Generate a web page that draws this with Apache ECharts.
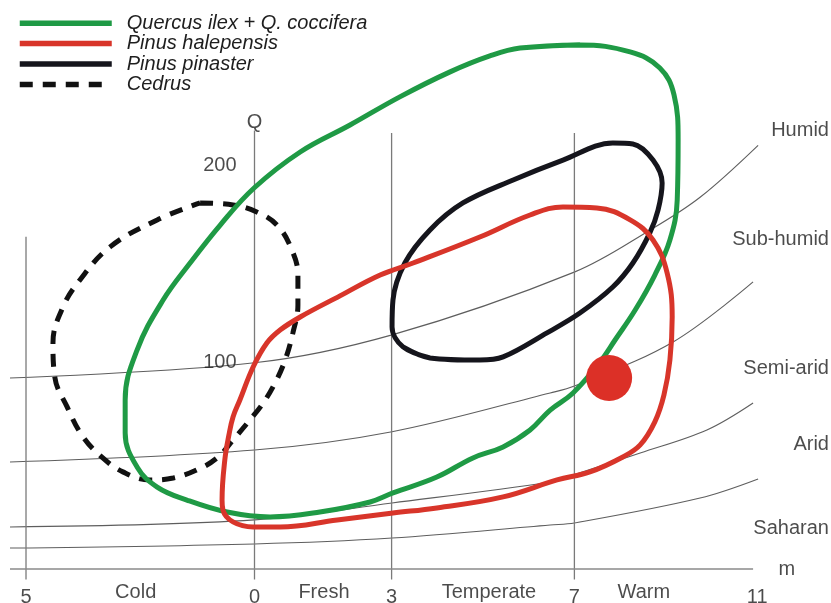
<!DOCTYPE html>
<html><head><meta charset="utf-8">
<script src="https://cdn.jsdelivr.net/npm/echarts@6/dist/echarts.min.js"></script>
<style>html,body{margin:0;padding:0;background:#fff}#c{width:831px;height:603px}</style>
</head><body><div id="c"></div>
<script>
// ---- Data (m = mean min temp of coldest month, Q = Emberger quotient) ----
const quercus = [[5.81,259.9],[7.12,261.5],[8.22,257.9],[8.87,249.8],[9.18,236.1],[9.27,213.2],[9.25,182.7],[9.09,162.4],[8.76,144.6],[8.33,126.8],[7.89,111.6],[7.56,100.4],[6.97,84.7],[6.47,76.0],[6.03,65.9],[5.44,57.3],[4.78,51.7],[3.99,42.0],[3.03,33.9],[2.53,29.3],[1.43,24.2],[0.34,21.7],[-0.60,24.2],[-1.48,30.3],[-2.13,36.9],[-2.57,47.1],[-2.83,64.4],[-2.83,81.1],[-2.57,106.5],[-2.00,131.9],[-1.41,150.7],[-0.75,170.0],[-0.01,188.8],[1.00,207.1],[2.09,220.8],[3.18,235.1],[4.28,247.8],[5.15,255.9],[5.81,259.9],[7.12,261.5]];
const halepensis = [[0.56,116.7],[1.00,123.3],[1.87,134.0],[2.75,144.6],[3.47,150.7],[4.93,163.9],[6.03,175.1],[6.75,179.2],[7.49,178.7],[8.22,172.6],[8.72,162.4],[9.03,145.6],[9.14,123.3],[9.09,101.4],[8.96,83.7],[8.76,70.0],[8.44,58.3],[8.06,52.2],[7.34,44.6],[6.62,40.5],[5.44,31.9],[3.99,26.3],[3.03,23.7],[1.81,20.2],[0.56,16.6],[-0.03,16.6],[-0.47,19.2],[-0.69,25.2],[-0.71,30.3],[-0.65,50.6],[-0.56,63.3],[-0.47,72.5],[-0.32,81.1],[-0.03,97.9],[0.27,110.1],[0.56,116.7],[1.00,123.3]];
const pinaster = [[3.84,102.5],[3.25,108.1],[3.01,118.2],[3.03,131.9],[3.29,150.7],[3.84,167.5],[4.56,181.2],[5.66,192.9],[6.75,203.0],[7.84,211.7],[8.28,211.2],[8.72,203.0],[8.92,191.4],[8.83,177.6],[8.65,166.0],[8.28,150.7],[7.84,138.5],[7.12,125.3],[6.40,115.2],[5.44,103.0],[4.93,101.4],[3.84,102.5],[3.25,108.1]];
const cedrus = [[-1.19,181.2],[-0.47,180.2],[0.05,176.6],[0.49,170.0],[0.80,158.3],[0.95,144.6],[0.95,129.4],[0.84,115.2],[0.67,101.4],[0.45,89.8],[0.19,79.6],[-0.10,71.0],[-0.47,60.8],[-0.82,51.7],[-1.26,45.6],[-1.78,41.5],[-2.29,40.5],[-2.88,44.6],[-3.32,51.7],[-3.75,62.3],[-4.10,77.6],[-4.37,92.8],[-4.41,110.1],[-4.19,128.4],[-3.82,142.1],[-3.16,158.9],[-2.13,172.6],[-1.19,181.2]];
const sitePoint = [[7.76,92.3]];

// Bioclimatic zone limits
const humidLimit    = [[-5.35,92.3],[0,100.0],[3.01,114.2],[7.01,146.2],[8.66,167.5],[9.75,184.1],[11.02,210.5]];
const subhumidLimit = [[-5.35,49.6],[0,55.7],[3.01,65.0],[6.47,84.7],[7.0,88.2],[9.16,110.6],[10.91,141.1]];
const semiaridLimit = [[-5.35,16.6],[0,20.2],[3.01,28.8],[6.47,39.5],[6.97,43.0],[8.44,54.2],[9.90,65.9],[10.91,79.6]];
const aridLimit     = [[-5.35,5.9],[0,8.0],[3.01,11.0],[6.47,17.6],[7.0,18.6],[9.75,31.3],[11.02,41.0]];

const climateNames = ['Humid','Sub-humid','Semi-arid','Arid','Saharan'];
const climateQ     = [217.8,162.9,96.9,58.3,16.1];
const thermalNames = ['Cold','Fresh','Temperate','Warm'];
const thermalM     = [-2.6,1.52,5.13,8.52];
const mTicks       = [-5,0,3,7,11];
const mTickLabels  = ['5','0','3','7','11'];
const qTicks       = [100,200];
const qTickLabels  = ['100','200'];
const verticalM    = [-5,0,3,7];
const verticalTop  = [164,218,216.7,216.7];
const verticalBottom = -10;
const baseQ = -4.7, baseFrom = -5.35, baseTo = 10.91;

// ---- Chart ----
const FONT = '"Liberation Sans", Arial, sans-serif';
const GRAY = '#5e5e5e';
const series = [];

[humidLimit, subhumidLimit, semiaridLimit, aridLimit].forEach((d,i)=>{
  series.push({type:'line', name:'limit'+i, data:d, smooth:0.35, symbol:'none', silent:true,
    lineStyle:{color:GRAY, width:1.1}, z:1});
});
verticalM.forEach((m,i)=>{
  series.push({type:'line', name:'v'+i, data:[[m,verticalBottom],[m,verticalTop[i]]], symbol:'none', silent:true,
    lineStyle:{color:'#7a7a7a', width:1.3}, z:1});
});
series.push({type:'line', name:'base', data:[[baseFrom,baseQ],[baseTo,baseQ]], symbol:'none', silent:true,
  lineStyle:{color:'#8a8a8a', width:1.6}, z:1});

series.push({type:'line', name:'Cedrus', data:cedrus, smooth:0.4, symbol:'none',
  lineStyle:{color:'#111', width:5, type:[13,10], cap:'butt'}, itemStyle:{color:'#111'}, z:3});
series.push({type:'line', name:'Pinus pinaster', data:pinaster, smooth:0.35, symbol:'none',
  lineStyle:{color:'#15151c', width:5}, itemStyle:{color:'#15151c'}, z:3});
series.push({type:'line', name:'Quercus ilex + Q. coccifera', data:quercus, smooth:0.4, symbol:'none',
  lineStyle:{color:'#1f9a45', width:5}, itemStyle:{color:'#1f9a45'}, z:4});
series.push({type:'line', name:'Pinus halepensis', data:halepensis, smooth:0.4, symbol:'none',
  lineStyle:{color:'#d8352a', width:5}, itemStyle:{color:'#d8352a'}, z:5});
series.push({type:'scatter', name:'site', data:sitePoint, symbolSize:46, itemStyle:{color:'#dc3027', opacity:1}, z:6, silent:true});

const txt = {color:'#1e1e1e', fontSize:20, fontFamily:FONT};
series.push({type:'scatter', name:'climLabels', symbolSize:0, silent:true, z:7,
  data: climateNames.map((n,i)=>[12.57, climateQ[i], n]),
  label:{show:true, position:'left', distance:0, formatter:p=>p.value[2], ...txt}});
series.push({type:'scatter', name:'thermLabels', symbolSize:0, silent:true, z:7,
  data: thermalNames.map((n,i)=>[thermalM[i], -16.5, n]),
  label:{show:true, position:'inside', formatter:p=>p.value[2], ...txt}});
series.push({type:'scatter', name:'mTicks', symbolSize:0, silent:true, z:7,
  data: mTicks.map((v,i)=>[v, -19, mTickLabels[i]]),
  label:{show:true, position:'inside', formatter:p=>p.value[2], ...txt}});
series.push({type:'scatter', name:'qTicks', symbolSize:0, silent:true, z:7,
  data: qTicks.map((v,i)=>[0, v, qTickLabels[i]]),
  label:{show:true, position:'left', distance:18, formatter:p=>p.value[2], ...txt}});
series.push({type:'scatter', name:'axisNames', symbolSize:0, silent:true, z:7,
  data: [[0,222.3,'Q'],[11.65,-5.2,'m']],
  label:{show:true, position:'inside', formatter:p=>p.value[2], ...txt}});

const chart = echarts.init(document.getElementById('c'), null, {renderer:'canvas'});
chart.setOption({
  backgroundColor:'#ffffff',
  animation:false,
  grid:{left:0, right:0, top:0, bottom:0},
  xAxis:{type:'value', min:-5.569, max:12.615, show:false},
  yAxis:{type:'value', min:-22.0, max:284.3, show:false},
  legend:{
    data:['Quercus ilex + Q. coccifera','Pinus halepensis','Pinus pinaster','Cedrus'],
    orient:'vertical', left:17, top:13, padding:0, itemWidth:92, itemHeight:14, itemGap:0,
    lineStyle:{width:5.5},
    itemStyle:{color:'transparent', borderWidth:0, opacity:0},
    textStyle:{fontSize:20, fontStyle:'italic', color:'#1e1e1e', fontFamily:FONT, lineHeight:20.4, padding:[0,0,0,10]},
    selectedMode:false
  },
  series: series
});
</script></body></html>
